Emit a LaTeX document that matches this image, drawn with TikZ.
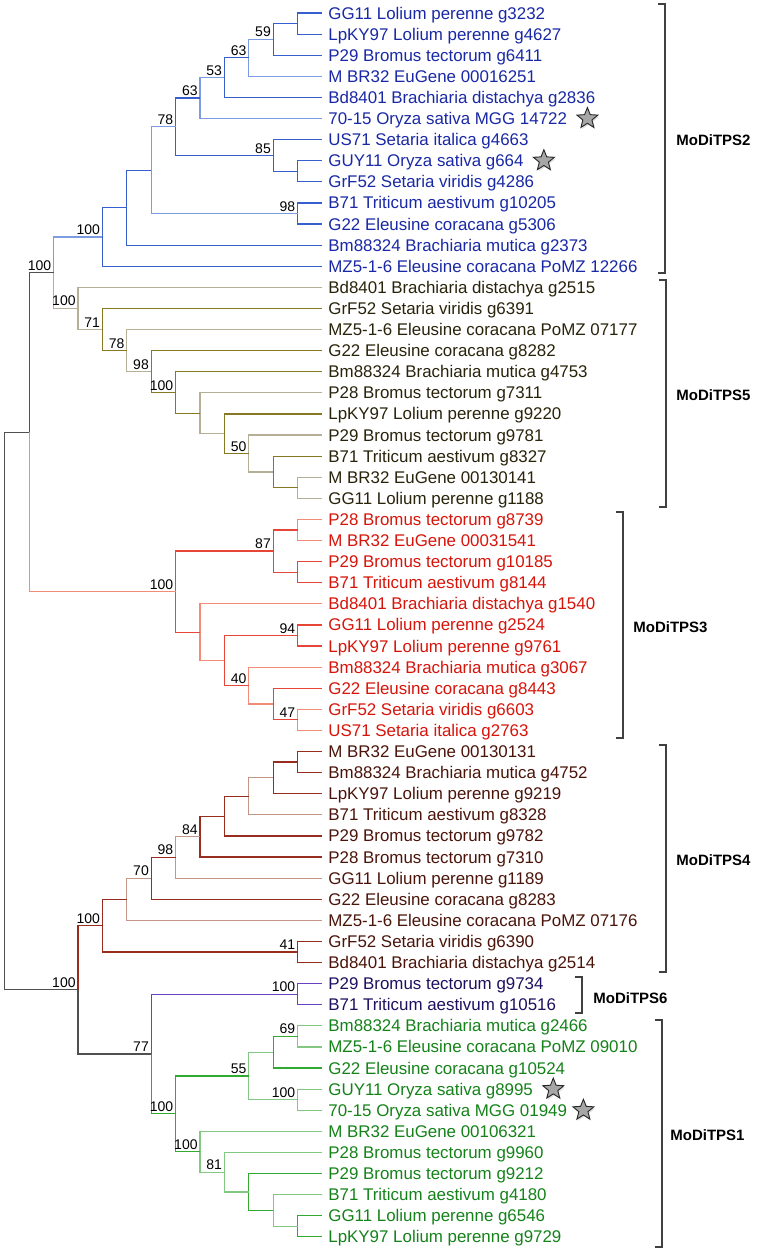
\documentclass[tikz,border=0pt]{standalone}
\usepackage{fontspec}
\setmainfont{Liberation Sans}
\usetikzlibrary{calc,shapes.geometric,shadows}

\definecolor{rootln}{RGB}{80,80,80}
\definecolor{tpsBtxt}{RGB}{25,40,165}  \definecolor{tpsBa}{RGB}{55,95,205}  \definecolor{tpsBb}{RGB}{125,155,225}
\definecolor{tpsOtxt}{RGB}{40,35,10}   \definecolor{tpsOa}{RGB}{135,120,35} \definecolor{tpsOb}{RGB}{180,175,150}
\definecolor{tpsRtxt}{RGB}{215,20,10}  \definecolor{tpsRa}{RGB}{230,70,55}  \definecolor{tpsRb}{RGB}{240,140,120}
\definecolor{tpsMtxt}{RGB}{75,20,10}   \definecolor{tpsMa}{RGB}{150,45,30}  \definecolor{tpsMb}{RGB}{195,150,135}
\definecolor{tpsItxt}{RGB}{30,15,95}   \definecolor{tpsIa}{RGB}{105,65,195}
\definecolor{tpsGtxt}{RGB}{20,130,25}  \definecolor{tpsGa}{RGB}{50,170,50}  \definecolor{tpsGb}{RGB}{130,200,130}

\tikzset{
  br/.style={line width=0.6pt},
  leaf/.style={anchor=west, inner xsep=3pt, text height=6pt, text depth=0pt,
    font=\fontsize{8.45}{10}\selectfont},
  leafB/.style={leaf, text=tpsBtxt}, leafO/.style={leaf, text=tpsOtxt},
  leafR/.style={leaf, text=tpsRtxt}, leafM/.style={leaf, text=tpsMtxt},
  leafI/.style={leaf, text=tpsItxt}, leafG/.style={leaf, text=tpsGtxt},
  boot/.style={anchor=south east, inner sep=1pt, text height=5pt, text depth=0pt,
    font=\fontsize{7}{8}\selectfont},
  grp/.style={anchor=west, inner sep=0pt, font=\bfseries\fontsize{7.5}{9}\selectfont},
  bracket/.style={line width=0.6pt, black!75},
  starmark/.style={star, star points=5, star point ratio=2.3, minimum size=11pt,
    inner sep=0pt, fill=gray!70, draw=black!85, line width=0.45pt,
    drop shadow={opacity=0.25, shadow xshift=0.6pt, shadow yshift=-0.8pt}}
}

% internal node: name, level above the tips, two children
\newcommand\clade[5][]{%
  \path let \p1=(#4), \p2=(#5) in coordinate (#2) at (\lx-#3*\dx, {(\y1+\y2)/2});
  \draw[br,#1] (#2) |- (#4) (#2) |- (#5);}

\begin{document}
\begin{tikzpicture}[x=0.5pt, y=-0.5pt]
  \def\lx{322}   % tips
  \def\dx{24.4}  % one level
  \def\dy{21.1}  % one leaf
  \useasboundingbox (0,0) rectangle (765,1254);
  %
  % MoDiTPS2
  \node[leafB] (l0)  at (\lx,13+0*\dy)  {GG11 Lolium perenne g3232};
  \node[leafB] (l1)  at (\lx,13+1*\dy)  {LpKY97 Lolium perenne g4627};
  \node[leafB] (l2)  at (\lx,13+2*\dy)  {P29 Bromus tectorum g6411};
  \node[leafB] (l3)  at (\lx,13+3*\dy)  {M BR32 EuGene 00016251};
  \node[leafB] (l4)  at (\lx,13+4*\dy)  {Bd8401 Brachiaria distachya g2836};
  \node[leafB] (l5)  at (\lx,13+5*\dy)  {70-15 Oryza sativa MGG 14722};
  \node[leafB] (l6)  at (\lx,13+6*\dy)  {US71 Setaria italica g4663};
  \node[leafB] (l7)  at (\lx,13+7*\dy)  {GUY11 Oryza sativa g664};
  \node[leafB] (l8)  at (\lx,13+8*\dy)  {GrF52 Setaria viridis g4286};
  \node[leafB] (l9)  at (\lx,13+9*\dy)  {B71 Triticum aestivum g10205};
  \node[leafB] (l10) at (\lx,13+10*\dy) {G22 Eleusine coracana g5306};
  \node[leafB] (l11) at (\lx,13+11*\dy) {Bm88324 Brachiaria mutica g2373};
  \node[leafB] (l12) at (\lx,13+12*\dy) {MZ5-1-6 Eleusine coracana PoMZ 12266};
  % MoDiTPS5
  \node[leafO] (l13) at (\lx,13+13*\dy) {Bd8401 Brachiaria distachya g2515};
  \node[leafO] (l14) at (\lx,13+14*\dy) {GrF52 Setaria viridis g6391};
  \node[leafO] (l15) at (\lx,13+15*\dy) {MZ5-1-6 Eleusine coracana PoMZ 07177};
  \node[leafO] (l16) at (\lx,13+16*\dy) {G22 Eleusine coracana g8282};
  \node[leafO] (l17) at (\lx,13+17*\dy) {Bm88324 Brachiaria mutica g4753};
  \node[leafO] (l18) at (\lx,13+18*\dy) {P28 Bromus tectorum g7311};
  \node[leafO] (l19) at (\lx,13+19*\dy) {LpKY97 Lolium perenne g9220};
  \node[leafO] (l20) at (\lx,13+20*\dy) {P29 Bromus tectorum g9781};
  \node[leafO] (l21) at (\lx,13+21*\dy) {B71 Triticum aestivum g8327};
  \node[leafO] (l22) at (\lx,13+22*\dy) {M BR32 EuGene 00130141};
  \node[leafO] (l23) at (\lx,13+23*\dy) {GG11 Lolium perenne g1188};
  % MoDiTPS3
  \node[leafR] (l24) at (\lx,13+24*\dy) {P28 Bromus tectorum g8739};
  \node[leafR] (l25) at (\lx,13+25*\dy) {M BR32 EuGene 00031541};
  \node[leafR] (l26) at (\lx,13+26*\dy) {P29 Bromus tectorum g10185};
  \node[leafR] (l27) at (\lx,13+27*\dy) {B71 Triticum aestivum g8144};
  \node[leafR] (l28) at (\lx,13+28*\dy) {Bd8401 Brachiaria distachya g1540};
  \node[leafR] (l29) at (\lx,13+29*\dy) {GG11 Lolium perenne g2524};
  \node[leafR] (l30) at (\lx,13+30*\dy) {LpKY97 Lolium perenne g9761};
  \node[leafR] (l31) at (\lx,13+31*\dy) {Bm88324 Brachiaria mutica g3067};
  \node[leafR] (l32) at (\lx,13+32*\dy) {G22 Eleusine coracana g8443};
  \node[leafR] (l33) at (\lx,13+33*\dy) {GrF52 Setaria viridis g6603};
  \node[leafR] (l34) at (\lx,13+34*\dy) {US71 Setaria italica g2763};
  % MoDiTPS4
  \node[leafM] (l35) at (\lx,13+35*\dy) {M BR32 EuGene 00130131};
  \node[leafM] (l36) at (\lx,13+36*\dy) {Bm88324 Brachiaria mutica g4752};
  \node[leafM] (l37) at (\lx,13+37*\dy) {LpKY97 Lolium perenne g9219};
  \node[leafM] (l38) at (\lx,13+38*\dy) {B71 Triticum aestivum g8328};
  \node[leafM] (l39) at (\lx,13+39*\dy) {P29 Bromus tectorum g9782};
  \node[leafM] (l40) at (\lx,13+40*\dy) {P28 Bromus tectorum g7310};
  \node[leafM] (l41) at (\lx,13+41*\dy) {GG11 Lolium perenne g1189};
  \node[leafM] (l42) at (\lx,13+42*\dy) {G22 Eleusine coracana g8283};
  \node[leafM] (l43) at (\lx,13+43*\dy) {MZ5-1-6 Eleusine coracana PoMZ 07176};
  \node[leafM] (l44) at (\lx,13+44*\dy) {GrF52 Setaria viridis g6390};
  \node[leafM] (l45) at (\lx,13+45*\dy) {Bd8401 Brachiaria distachya g2514};
  % MoDiTPS6
  \node[leafI] (l46) at (\lx,13+46*\dy) {P29 Bromus tectorum g9734};
  \node[leafI] (l47) at (\lx,13+47*\dy) {B71 Triticum aestivum g10516};
  % MoDiTPS1
  \node[leafG] (l48) at (\lx,13+48*\dy) {Bm88324 Brachiaria mutica g2466};
  \node[leafG] (l49) at (\lx,13+49*\dy) {MZ5-1-6 Eleusine coracana PoMZ 09010};
  \node[leafG] (l50) at (\lx,13+50*\dy) {G22 Eleusine coracana g10524};
  \node[leafG] (l51) at (\lx,13+51*\dy) {GUY11 Oryza sativa g8995};
  \node[leafG] (l52) at (\lx,13+52*\dy) {70-15 Oryza sativa MGG 01949};
  \node[leafG] (l53) at (\lx,13+53*\dy) {M BR32 EuGene 00106321};
  \node[leafG] (l54) at (\lx,13+54*\dy) {P28 Bromus tectorum g9960};
  \node[leafG] (l55) at (\lx,13+55*\dy) {P29 Bromus tectorum g9212};
  \node[leafG] (l56) at (\lx,13+56*\dy) {B71 Triticum aestivum g4180};
  \node[leafG] (l57) at (\lx,13+57*\dy) {GG11 Lolium perenne g6546};
  \node[leafG] (l58) at (\lx,13+58*\dy) {LpKY97 Lolium perenne g9729};
  %
  % stars on the Oryza genes
  \node[starmark] (st5)  at ([xshift=7pt]l5.east)  {};
  \node[starmark] (st7)  at ([xshift=7pt]l7.east)  {};
  \node[starmark] (st51) at ([xshift=7pt]l51.east) {};
  \node[starmark] (st52) at ([xshift=5pt]l52.east) {};
  %
  % MoDiTPS2 branches
  \clade[tpsBa]{a1}{1}{l0}{l1}
  \clade[tpsBa]{a2}{2}{a1}{l2}
  \clade[tpsBb]{a3}{3}{a2}{l3}
  \clade[tpsBa]{a4}{4}{a3}{l4}
  \clade[tpsBb]{a5}{5}{a4}{l5}
  \clade[tpsBa]{b1}{1}{l7}{l8}
  \clade[tpsBa]{b2}{2}{l6}{b1}
  \clade[tpsBa]{a6}{6}{a5}{b2}
  \clade[tpsBa]{c1}{1}{l9}{l10}
  \clade[tpsBb]{a7}{7}{a6}{c1}
  \clade[tpsBa]{a8}{8}{a7}{l11}
  \clade[tpsBa]{a9}{9}{a8}{l12}
  % MoDiTPS5 branches
  \clade[tpsOb]{d1}{1}{l22}{l23}
  \clade[tpsOa]{d2}{2}{l21}{d1}
  \clade[tpsOb]{d3}{3}{l20}{d2}
  \clade[tpsOa]{d4}{4}{l19}{d3}
  \clade[tpsOb]{d5}{5}{l18}{d4}
  \clade[tpsOa]{d6}{6}{l17}{d5}
  \clade[tpsOa]{d7}{7}{l16}{d6}
  \clade[tpsOb]{d8}{8}{l15}{d7}
  \clade[tpsOa]{d9}{9}{l14}{d8}
  \clade[tpsOb]{d10}{10}{l13}{d9}
  \clade[draw=none]{r25}{11}{a9}{d10}
  \draw[br,tpsBb] (r25) |- (a9);
  \draw[br,tpsOb] (r25) |- (d10);
  % MoDiTPS3 branches
  \clade[tpsRb]{e1}{1}{l24}{l25}
  \clade[tpsRa]{e2}{1}{l26}{l27}
  \clade[tpsRa]{e3}{2}{e1}{e2}
  \clade[tpsRa]{f1}{1}{l29}{l30}
  \clade[tpsRb]{f2}{1}{l33}{l34}
  \clade[tpsRa]{f3}{2}{l32}{f2}
  \clade[tpsRb]{f4}{3}{l31}{f3}
  \clade[tpsRa]{f5}{4}{f1}{f4}
  \clade[tpsRb]{f6}{5}{l28}{f5}
  \clade[tpsRa]{e4}{6}{e3}{f6}
  \clade[draw=none]{top}{12}{r25}{e4}
  \draw[br,rootln] (top) |- (r25);
  \draw[br,tpsRb] (top) |- (e4);
  % MoDiTPS4 branches
  \clade[tpsMa]{g1}{1}{l35}{l36}
  \clade[tpsMa]{g2}{2}{g1}{l37}
  \clade[tpsMb]{g3}{3}{g2}{l38}
  \clade[tpsMa]{g4}{4}{g3}{l39}
  \clade[tpsMa]{g5}{5}{g4}{l40}
  \clade[tpsMb]{g6}{6}{g5}{l41}
  \clade[tpsMa]{g7}{7}{g6}{l42}
  \clade[tpsMb]{g8}{8}{g7}{l43}
  \clade[tpsMa]{g9}{1}{l44}{l45}
  \clade[tpsMa]{g10}{9}{g8}{g9}
  % MoDiTPS6 branches
  \clade[tpsIa]{m1}{1}{l46}{l47}
  % MoDiTPS1 branches
  \clade[tpsGb]{n1}{1}{l48}{l49}
  \clade[tpsGa]{n2}{2}{n1}{l50}
  \clade[tpsGb]{n3}{1}{l51}{l52}
  \clade[tpsGb]{n4}{3}{n2}{n3}
  \clade[tpsGa]{p1}{1}{l57}{l58}
  \clade[tpsGb]{p2}{2}{l56}{p1}
  \clade[tpsGa]{p3}{3}{l55}{p2}
  \clade[tpsGb]{p4}{4}{l54}{p3}
  \clade[tpsGb]{p5}{5}{l53}{p4}
  \clade[tpsGa]{n5}{6}{n4}{p5}
  \clade[draw=none]{k1}{7}{m1}{n5}
  \draw[br,tpsIa] (k1) |- (m1);
  \draw[br,tpsGa] (k1) |- (n5);
  \clade[draw=none]{bot}{10}{g10}{k1}
  \draw[br,tpsMa] (bot) |- (g10);
  \draw[br,rootln] (bot) |- (k1);
  % root
  \clade[rootln]{root}{13}{top}{bot}
  %
  % bootstrap values
  \node[boot] (s-a2)  at (a2)  {59};
  \node[boot] (s-a3)  at (a3)  {63};
  \node[boot] (s-a4)  at (a4)  {53};
  \node[boot] (s-a5)  at (a5)  {63};
  \node[boot] (s-a6)  at (a6)  {78};
  \node[boot] (s-b2)  at (b2)  {85};
  \node[boot] (s-c1)  at (c1)  {98};
  \node[boot] (s-a9)  at (a9)  {100};
  \node[boot] (s-d3)  at (d3)  {50};
  \node[boot] (s-d6)  at (d6)  {100};
  \node[boot] (s-d7)  at (d7)  {98};
  \node[boot] (s-d8)  at (d8)  {78};
  \node[boot] (s-d9)  at (d9)  {71};
  \node[boot] (s-d10) at (d10) {100};
  \node[boot] (s-r25) at (r25) {100};
  \node[boot] (s-e3)  at (e3)  {87};
  \node[boot] (s-f1)  at (f1)  {94};
  \node[boot] (s-f2)  at (f2)  {47};
  \node[boot] (s-f4)  at (f4)  {40};
  \node[boot] (s-e4)  at (e4)  {100};
  \node[boot] (s-g5)  at (g5)  {84};
  \node[boot] (s-g6)  at (g6)  {98};
  \node[boot] (s-g7)  at (g7)  {70};
  \node[boot] (s-g9)  at (g9)  {41};
  \node[boot] (s-g10) at (g10) {100};
  \node[boot] (s-m1)  at (m1)  {100};
  \node[boot] (s-n1)  at (n1)  {69};
  \node[boot] (s-n3)  at (n3)  {100};
  \node[boot] (s-n4)  at (n4)  {55};
  \node[boot] (s-p4)  at (p4)  {81};
  \node[boot] (s-p5)  at (p5)  {100};
  \node[boot] (s-n5)  at (n5)  {100};
  \node[boot] (s-k1)  at (k1)  {77};
  \node[boot] (s-bot) at (bot) {100};
  %
  % clade brackets
  \draw[bracket] (658,4) -- (665,4) -- (665,273) -- (658,273);
  \node[grp] (tps2) at (676,140) {MoDiTPS2};
  \draw[bracket] (659,280) -- (666,280) -- (666,507) -- (659,507);
  \node[grp] (tps5) at (676,395) {MoDiTPS5};
  \draw[bracket] (616,512) -- (623,512) -- (623,738) -- (616,738);
  \node[grp] (tps3) at (633,627) {MoDiTPS3};
  \draw[bracket] (659,745) -- (666,745) -- (666,972) -- (659,972);
  \node[grp] (tps4) at (676,860) {MoDiTPS4};
  \draw[bracket] (575,977) -- (582,977) -- (582,1013) -- (575,1013);
  \node[grp] (tps6) at (593,998) {MoDiTPS6};
  \draw[bracket] (655,1020) -- (662,1020) -- (662,1247) -- (655,1247);
  \node[grp] (tps1) at (670,1135) {MoDiTPS1};
\end{tikzpicture}
\end{document}
